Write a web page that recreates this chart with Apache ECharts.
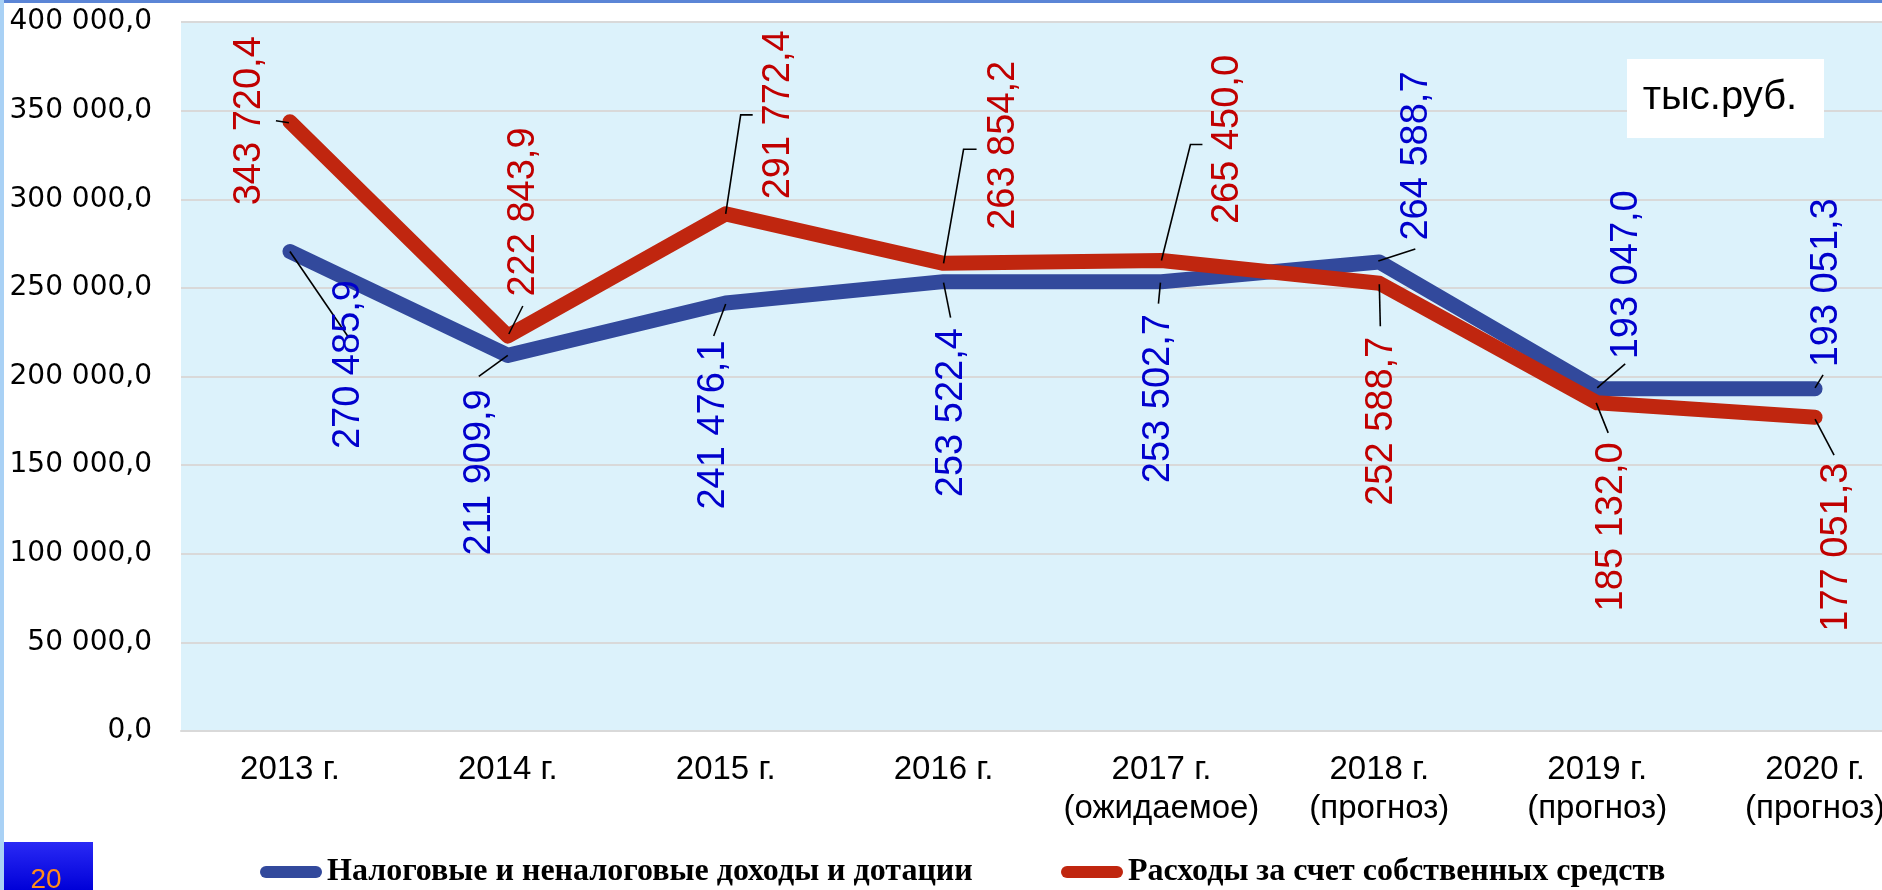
<!DOCTYPE html>
<html>
<head>
<meta charset="utf-8">
<script src="https://cdn.jsdelivr.net/npm/echarts@6/dist/echarts.min.js"></script>
<style>
html,body{margin:0;padding:0;background:#fff;}
#chart{width:1882px;height:890px;}
</style>
</head>
<body>
<div id="chart"></div>
<script>
// ---- data ----
const categories = ['2013 г.', '2014 г.', '2015 г.', '2016 г.', '2017 г.\n(ожидаемое)', '2018 г.\n(прогноз)', '2019 г.\n(прогноз)', '2020 г.\n(прогноз)'];
const incomeName = 'Налоговые и неналоговые доходы и дотации';
const expenseName = 'Расходы за счет собственных средств';
const incomeValues = [270485.9, 211909.9, 241476.1, 253522.4, 253502.7, 264588.7, 193047.0, 193051.3];
const expenseValues = [343720.4, 222843.9, 291772.4, 263854.2, 265450.0, 252588.7, 185132.0, 177051.3];
const yMin = 0, yMax = 400000, yStep = 50000;
const unitText = 'тыс.руб.';
const slideNumber = '20';

// ---- label layout (pixel offsets of label centre and leader line from each point) ----
const incomeLabelLayout = [
  {c:[59,113],  l:[[0,0],[58,85]]},
  {c:[-28,117], l:[[0,0],[-29,21]]},
  {c:[-12,122], l:[[0,1],[-12,33]]},
  {c:[8,131],   l:[[0,1],[7,36]]},
  {c:[-3,117],  l:[[-1,1],[-3,22]]},
  {c:[37,-106], l:[[-1,-1],[36,-13]]},
  {c:[29,-114], l:[[0,-1],[28,-25]]},
  {c:[11,-106], l:[[0,-1],[8,-14]]}
];
const expenseLabelLayout = [
  {c:[-40,-1],  l:[[-14,-1],[-1,1]]},
  {c:[16,-124], l:[[1,-2],[15,-30]]},
  {c:[53,-99],  l:[[0,0],[15,-99],[27,-99]]},
  {c:[60,-118], l:[[0,0],[20,-114],[33,-114]]},
  {c:[66,-121], l:[[0,0],[29,-116],[41,-116]]},
  {c:[2,138],   l:[[0,1],[1,43]]},
  {c:[14,124],  l:[[-1,0],[11,30]]},
  {c:[21,130],  l:[[0,2],[19,38]]}
];

function fmt(v){
  const s = v.toFixed(1).split('.');
  return s[0].replace(/\B(?=(\d{3})+(?!\d))/g, ' ') + ',' + s[1];
}

function labelSeries(values, layout, color){
  return {
    type:'custom',
    coordinateSystem:'cartesian2d',
    data: values.map((v,i)=>[i,v]),
    encode:{x:0,y:1},
    z:10, silent:true, clip:false,
    renderItem:function(params, api){
      const i = params.dataIndex;
      const p = api.coord([api.value(0), api.value(1)]);
      const L = layout[i];
      return {
        type:'group',
        children:[
          {type:'polyline', shape:{points:L.l.map(q=>[p[0]+q[0], p[1]+q[1]])},
           style:{stroke:'#000', lineWidth:1.6, fill:null}},
          {type:'text', x:p[0]+L.c[0], y:p[1]+L.c[1], rotation:Math.PI/2,
           style:{text:fmt(api.value(1)), fill:color, font:'38px "Liberation Sans", Arial, sans-serif',
                  align:'center', verticalAlign:'middle'}}
        ]
      };
    }
  };
}

const capsule = 'path://M6,0 L56,0 A6,6 0 0 1 56,12 L6,12 A6,6 0 0 1 6,0 Z';
const legendText = {fontFamily:'"Liberation Serif", "Times New Roman", serif', fontWeight:'bold', fontSize:32, color:'#000'};

const chart = echarts.init(document.getElementById('chart'), null, {renderer:'canvas'});
chart.setOption({
  animation:false,
  backgroundColor:'#fff',
  grid:{left:181, width:1743, top:22, bottom:159, show:true, backgroundColor:'#DCF2FB', borderWidth:0,
        containLabel:false, outerBoundsMode:'none'},
  xAxis:{
    type:'category', data:categories, boundaryGap:true,
    axisLine:{show:true, lineStyle:{color:'#D9D9D9', width:2}},
    axisTick:{show:false},
    axisLabel:{color:'#000', fontFamily:'"Liberation Sans", Arial, sans-serif', fontSize:33, lineHeight:39, margin:19, interval:0}
  },
  yAxis:{
    type:'value', min:yMin, max:yMax, interval:yStep,
    axisLine:{show:false}, axisTick:{show:false},
    splitLine:{lineStyle:{color:'#D9D9D9', width:2}},
    axisLabel:{color:'#000', fontFamily:'"DejaVu Sans", sans-serif', fontSize:28, margin:29, formatter:fmt}
  },
  legend:[
    {data:[incomeName], left:255, top:851, itemWidth:62, itemHeight:12, icon:capsule, textStyle:legendText},
    {data:[expenseName], left:1056, top:851, itemWidth:62, itemHeight:12, icon:capsule, textStyle:legendText}
  ],
  series:[
    {name:incomeName, type:'line', data:incomeValues, showSymbol:false, symbol:'none',
     itemStyle:{color:'#32499C'}, lineStyle:{color:'#32499C', width:15, cap:'round', join:'round'}, z:2},
    {name:expenseName, type:'line', data:expenseValues, showSymbol:false, symbol:'none',
     itemStyle:{color:'#C0260F'}, lineStyle:{color:'#C0260F', width:15, cap:'round', join:'round'}, z:3},
    labelSeries(incomeValues, incomeLabelLayout, '#0000CC'),
    labelSeries(expenseValues, expenseLabelLayout, '#C00000')
  ],
  graphic:[
    {type:'rect', left:0, top:0, shape:{width:1882, height:3}, style:{fill:'#5B85D6'}, z:100},
    {type:'rect', left:0, top:0, shape:{width:4, height:890}, style:{fill:'#A9D1F5'}, z:100},
    {type:'rect', left:1627, top:59, shape:{width:197, height:79}, style:{fill:'#fff'}, z:50},
    {type:'text', x:1720, y:98, style:{text:unitText, fill:'#000', font:'40px "Liberation Sans", Arial, sans-serif', align:'center', verticalAlign:'middle'}, z:51},
    {type:'rect', left:0, top:842, shape:{width:93, height:48},
     style:{fill:{type:'linear', x:0, y:0, x2:0, y2:1, colorStops:[{offset:0, color:'#2A2AF5'},{offset:1, color:'#0000D8'}]}}, z:50},
    {type:'text', x:46, y:880, style:{text:slideNumber, fill:'#FF8C1A', font:'28px "Liberation Sans", Arial, sans-serif', align:'center', verticalAlign:'middle'}, z:51}
  ]
});
</script>
</body>
</html>
